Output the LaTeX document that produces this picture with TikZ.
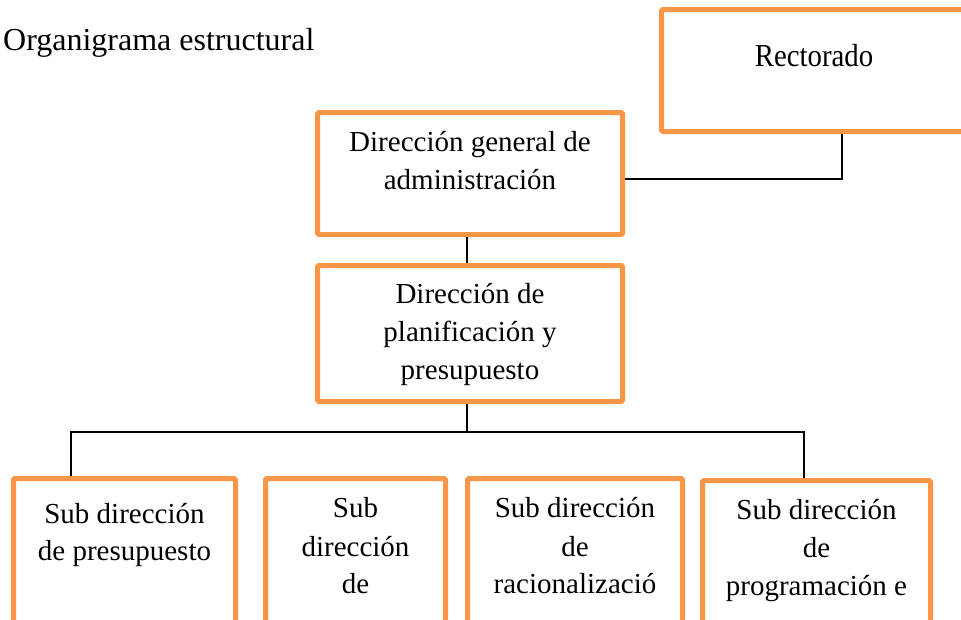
\documentclass[tikz,border=0pt]{standalone}
\usepackage{graphicx}
\usepackage{fontspec}
\setmainfont{Liberation Serif}
\definecolor{orgorange}{RGB}{247,150,70}
\begin{document}
\begin{tikzpicture}[x=1pt,y=-1pt,
  box/.style={rectangle, draw=orgorange, line width=5pt, rounded corners=1.5pt, fill=white, inner sep=0pt},
  txt/.style={anchor=base, inner sep=0pt, text=black, font=\fontsize{29}{35}\selectfont},
  wire/.style={draw=black, line width=1.8pt}]
\useasboundingbox (0,0) rectangle (961,619);
\clip (0,0) rectangle (961,619);
\fill[white] (0,0) rectangle (961,619);

% title
\node[anchor=base west, inner sep=0pt, font=\fontsize{32}{38}\selectfont] (title) at (3,50) {Organigrama estructural};

% boxes
\node[box, minimum width=305pt, minimum height=122pt] (rect) at (814,70.5) {};
\node[box, minimum width=305pt, minimum height=122pt] (dga) at (470,173.5) {};
\node[box, minimum width=305pt, minimum height=136pt] (dpp) at (470,333.5) {};
\node[box, minimum width=222pt, minimum height=201pt] (b1) at (124.5,579) {};
\node[box, minimum width=180pt, minimum height=201pt] (b2) at (355.5,579) {};
\node[box, minimum width=215pt, minimum height=201pt] (b3) at (575,579) {};
\node[box, minimum width=228pt, minimum height=201pt] (b4) at (816.5,581) {};

% texts
\node[txt, font=\fontsize{32}{38}\selectfont] (trec) at (814,66) {\scalebox{0.9}[1]{Rectorado}};
\node[txt] (tdga1) at (470,151) {Dirección general de};
\node[txt] (tdga2) at (470,189) {administración};
\node[txt] (tdpp1) at (470,303) {Dirección de};
\node[txt] (tdpp2) at (470,341) {planificación y};
\node[txt] (tdpp3) at (470,379) {presupuesto};
\node[txt] (tb1a) at (124.5,523) {Sub dirección};
\node[txt] (tb1b) at (124.5,560) {de presupuesto};
\node[txt] (tb2a) at (355.5,517) {Sub};
\node[txt] (tb2b) at (355.5,556) {dirección};
\node[txt] (tb2c) at (355.5,593) {de};
\node[txt] (tb3a) at (575,517) {Sub dirección};
\node[txt] (tb3b) at (575,556) {de};
\node[txt] (tb3c) at (575,593) {racionalizació};
\node[txt] (tb4a) at (816.5,519) {Sub dirección};
\node[txt] (tb4b) at (816.5,557) {de};
\node[txt] (tb4c) at (816.5,595) {programación e};

% connector coordinates
\coordinate (k1) at (842,179);
\coordinate (k2) at (467,250);
\coordinate (bm) at (467,432);
\coordinate (bl) at (71,432);
\coordinate (br) at (804,432);

% connectors
\draw[wire] (rect.south -| k1) -- (k1) -- (dga.east |- k1);
\draw[wire] (dga.south -| k2) -- (dpp.north -| k2);
\draw[wire] (dpp.south -| bm) -- (bm);
\draw[wire] (b1.north -| bl) -- (bl) -- (br) -- (b4.north -| br);
\end{tikzpicture}
\end{document}
